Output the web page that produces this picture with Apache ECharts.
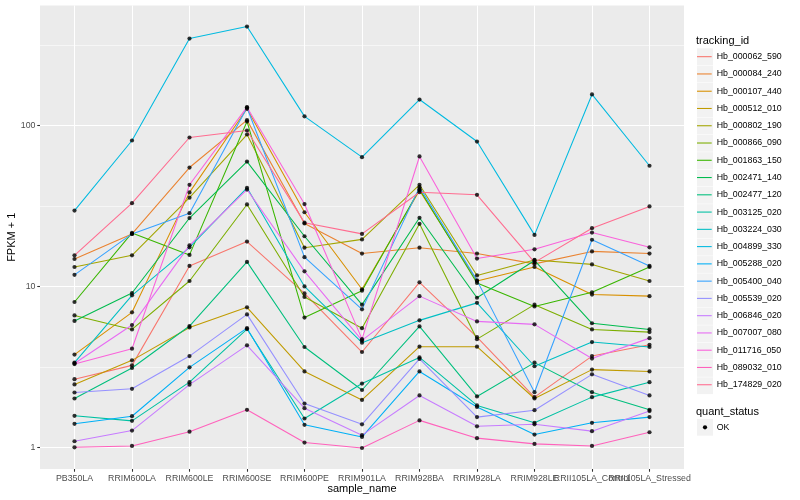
<!DOCTYPE html>
<html>
<head>
<meta charset="utf-8">
<script src="https://cdn.jsdelivr.net/npm/echarts@6/dist/echarts.min.js"></script>
<style>
html,body{margin:0;padding:0;background:#ffffff;}
#c{width:800px;height:500px;}
</style>
</head>
<body>
<div id="c"></div>
<script>
// ---- data (FPKM + 1) ----
const categories = ['PB350LA','RRIM600LA','RRIM600LE','RRIM600SE','RRIM600PE','RRIM901LA','RRIM928BA','RRIM928LA','RRIM928LE','RRII105LA_Control','RRII105LA_Stressed'];

const Hb_000062_590 = [2.65, 3.23, 13.4, 19.0, 9.05, 3.91, 10.6, 4.84, 2.05, 3.69, 4.34];
const Hb_000084_240 = [14.8, 21.2, 54.8, 108, 24.6, 16.0, 17.4, 16.0, 13.8, 16.5, 16.0];
const Hb_000107_440 = [3.77, 6.9, 38.4, 127, 28.9, 9.6, 39.5, 10.8, 13.2, 8.9, 8.7];
const Hb_000512_010 = [2.46, 3.47, 5.56, 7.41, 2.96, 1.97, 4.22, 4.22, 2.01, 3.04, 2.96];
const Hb_000802_190 = [13.2, 15.6, 35.6, 87.9, 17.4, 19.6, 42.8, 11.7, 14.6, 13.7, 10.8];
const Hb_000866_090 = [6.6, 5.4, 10.8, 32.3, 8.6, 5.5, 24.5, 4.7, 7.7, 5.4, 5.2];
const Hb_001863_150 = [8.0, 21.5, 15.7, 106, 6.4, 9.4, 40.2, 10.5, 7.5, 9.2, 13.2];
const Hb_002471_140 = [6.1, 9.1, 26.6, 59.7, 20.5, 7.7, 26.7, 8.5, 14.5, 5.9, 5.4];
const Hb_002477_120 = [2.01, 3.11, 5.67, 14.2, 4.2, 2.27, 5.64, 2.07, 3.36, 2.2, 1.71];
const Hb_003125_020 = [1.57, 1.46, 2.54, 5.43, 1.51, 2.49, 3.62, 1.82, 1.42, 2.05, 2.54];
const Hb_003224_030 = [3.36, 8.8, 17.5, 41.0, 10.0, 4.47, 6.15, 7.9, 3.19, 4.51, 4.2];
const Hb_004899_330 = [29.6, 80.7, 347, 412, 114, 63.6, 145, 79.5, 20.9, 156, 56.2];
const Hb_005288_020 = [1.40, 1.56, 3.14, 5.5, 1.38, 1.16, 2.96, 1.78, 1.20, 1.42, 1.54];
const Hb_005400_040 = [11.8, 21.2, 28.5, 129, 15.2, 7.2, 41.4, 10.9, 2.2, 19.5, 13.4];
const Hb_005539_020 = [2.19, 2.31, 3.69, 6.70, 1.87, 1.39, 3.54, 1.54, 1.70, 2.84, 2.10];
const Hb_006846_020 = [1.09, 1.27, 2.45, 4.30, 1.75, 1.19, 2.10, 1.35, 1.39, 1.26, 1.68];
const Hb_007007_080 = [3.32, 5.75, 18.0, 40.0, 12.4, 4.62, 8.7, 6.06, 5.81, 3.56, 4.77];
const Hb_011716_050 = [3.29, 4.10, 42.8, 130, 32.5, 4.7, 64.2, 14.9, 17.0, 21.6, 17.5];
const Hb_089032_010 = [1.00, 1.02, 1.25, 1.71, 1.07, 0.99, 1.47, 1.14, 1.05, 1.02, 1.24];
const Hb_174829_020 = [15.6, 32.9, 84.2, 93.1, 24.9, 21.2, 38.5, 37.1, 14.1, 23.0, 31.4];

const trackingIds = ['Hb_000062_590','Hb_000084_240','Hb_000107_440','Hb_000512_010','Hb_000802_190','Hb_000866_090','Hb_001863_150','Hb_002471_140','Hb_002477_120','Hb_003125_020','Hb_003224_030','Hb_004899_330','Hb_005288_020','Hb_005400_040','Hb_005539_020','Hb_006846_020','Hb_007007_080','Hb_011716_050','Hb_089032_010','Hb_174829_020'];
const seriesValues = [Hb_000062_590,Hb_000084_240,Hb_000107_440,Hb_000512_010,Hb_000802_190,Hb_000866_090,Hb_001863_150,Hb_002471_140,Hb_002477_120,Hb_003125_020,Hb_003224_030,Hb_004899_330,Hb_005288_020,Hb_005400_040,Hb_005539_020,Hb_006846_020,Hb_007007_080,Hb_011716_050,Hb_089032_010,Hb_174829_020];
const quantStatus = ['OK'];

const yTickValues = [1, 10, 100];
const yMinorValues = [3.1623, 31.623, 316.23];
const xTickValues = categories.map((c, i) => i);

// ---- style ----
const palette = ['#F8766D','#EA8331','#D89000','#C09B00','#A3A500','#7CAE00','#39B600','#00BB4E','#00BF7D','#00C1A3','#00BFC4','#00BAE0','#00B0F6','#35A2FF','#9590FF','#C77CFF','#E76BF3','#FA62DB','#FF62BC','#FF6C90'];
const FONT = '"Liberation Sans", Arial, Helvetica, sans-serif';
const Y_MIN = 0.733, Y_MAX = 557;
const X_MIN = -0.6, X_MAX = 10.6;

const chart = echarts.init(document.getElementById('c'), null, {renderer: 'canvas'});

const lineSeries = trackingIds.map((name, k) => ({
  name: name,
  type: 'line',
  xAxisIndex: 0,
  yAxisIndex: 0,
  data: seriesValues[k].map((v, i) => [i, v]),
  symbol: 'none',
  showSymbol: false,
  color: palette[k],
  lineStyle: {width: 1.07, color: palette[k]},
  emphasis: {disabled: true},
  silent: true,
  z: 2
}));

const pointData = [];
seriesValues.forEach(arr => arr.forEach((v, i) => pointData.push([i, v])));

const pointSeries = {
  name: quantStatus[0],
  type: 'scatter',
  xAxisIndex: 0,
  yAxisIndex: 0,
  data: pointData,
  symbol: 'circle',
  symbolSize: 4.2,
  itemStyle: {color: '#000000'},
  silent: true,
  z: 3
};

// legend key backgrounds and titles
const KEY_X = 697, KEY_W = 16, KEY_H = 17.316, KEY_TOP = 48.05;
const ROW_H = 9.05;
const graphics = [];
trackingIds.forEach((n, i) => {
  graphics.push({
    type: 'rect', z: 1, silent: true,
    shape: {x: KEY_X, y: KEY_TOP + i * KEY_H + 0.25, width: KEY_W, height: KEY_H - 0.5},
    style: {fill: '#F2F2F2'}
  });
});
graphics.push({
  type: 'text', z: 5, silent: true,
  style: {text: 'tracking_id', x: 696, y: 40.7, fill: '#000000', font: '11px ' + FONT, verticalAlign: 'middle', align: 'left'}
});
graphics.push({
  type: 'text', z: 5, silent: true,
  style: {text: 'quant_status', x: 696, y: 412.3, fill: '#000000', font: '11px ' + FONT, verticalAlign: 'middle', align: 'left'}
});
graphics.push({
  type: 'rect', z: 1, silent: true,
  shape: {x: KEY_X, y: 427.3 - KEY_H / 2 + 0.25, width: KEY_W, height: KEY_H - 0.5},
  style: {fill: '#F2F2F2'}
});
graphics.push({
  type: 'circle', z: 5, silent: true,
  shape: {cx: KEY_X + KEY_W / 2, cy: 427.3, r: 2.1},
  style: {fill: '#000000'}
});
graphics.push({
  type: 'text', z: 5, silent: true,
  style: {text: quantStatus[0], x: 716.7, y: 427.3, fill: '#000000', font: '8.8px ' + FONT, verticalAlign: 'middle', align: 'left'}
});

const labelStyle = {fontSize: 8.8, color: '#4D4D4D', fontFamily: FONT};

// one extra bottom axis per overlapping tick label so none is dropped
function labelOnlyAxis(values) {
  return {
    type: 'value', position: 'bottom', min: X_MIN, max: X_MAX,
    axisLine: {show: false, onZero: false},
    axisTick: {show: false, customValues: values},
    splitLine: {show: false},
    axisLabel: Object.assign({show: true, margin: 4.6, customValues: values, hideOverlap: false,
      formatter: v => categories[Math.round(v)]}, labelStyle)
  };
}

const option = {
  animation: false,
  backgroundColor: '#ffffff',
  textStyle: {fontFamily: FONT},
  grid: {
    left: 40, right: 116, top: 5.5, bottom: 31,
    show: true, backgroundColor: '#EBEBEB', borderWidth: 0,
    containLabel: false, outerBoundsMode: 'none'
  },
  legend: {
    data: trackingIds,
    orient: 'vertical',
    left: KEY_X,
    top: KEY_TOP + KEY_H / 2 - ROW_H / 2,
    padding: 0,
    itemGap: KEY_H - ROW_H,
    itemWidth: 14.7,
    itemHeight: KEY_H,
    icon: 'path://M0,0H15V1.1H0Z',
    selectedMode: false,
    textStyle: {fontSize: 8.8, color: '#000000', fontFamily: FONT},
    z: 4
  },
  xAxis: [
    {
      type: 'value',
      position: 'bottom',
      min: X_MIN,
      max: X_MAX,
      name: 'sample_name',
      nameLocation: 'middle',
      nameGap: 14,
      nameMoveOverlap: false,
      nameTextStyle: {fontSize: 11, color: '#000000', fontFamily: FONT, verticalAlign: 'top'},
      axisLine: {show: false, onZero: false},
      axisTick: {show: true, length: 2.75, lineStyle: {color: '#333333', width: 1.07}, customValues: xTickValues},
      axisLabel: Object.assign({
        show: true, margin: 4.6,
        customValues: xTickValues.slice(0, 9),
        hideOverlap: false,
        formatter: v => categories[Math.round(v)]
      }, labelStyle),
      splitLine: {show: true, lineStyle: {color: '#FFFFFF', width: 1.07}},
      minorSplitLine: {show: false}
    },
    labelOnlyAxis([9]),
    labelOnlyAxis([10])
  ],
  yAxis: [
    {
      type: 'log',
      logBase: 10,
      position: 'left',
      min: Y_MIN,
      max: Y_MAX,
      name: 'FPKM + 1',
      nameLocation: 'middle',
      nameGap: 22.5,
      nameRotate: 90,
      nameMoveOverlap: false,
      nameTextStyle: {fontSize: 11, color: '#000000', fontFamily: FONT},
      axisLine: {show: false, onZero: false},
      axisTick: {show: true, length: 2.75, lineStyle: {color: '#333333', width: 1.07}, customValues: yTickValues},
      axisLabel: Object.assign({
        show: true, margin: 4.5,
        customValues: yTickValues,
        hideOverlap: false,
        formatter: v => String(Math.round(v))
      }, labelStyle),
      splitLine: {show: true, lineStyle: {color: '#FFFFFF', width: 1.07}}
    },
    {
      type: 'log',
      logBase: 10,
      min: Y_MIN,
      max: Y_MAX,
      position: 'left',
      axisLine: {show: false, onZero: false},
      axisTick: {show: false, customValues: yMinorValues},
      axisLabel: {show: false, customValues: yMinorValues},
      splitLine: {show: true, lineStyle: {color: '#FFFFFF', width: 0.55}}
    }
  ],
  graphic: {elements: graphics},
  series: lineSeries.concat([pointSeries])
};

chart.setOption(option);
</script>
</body>
</html>
